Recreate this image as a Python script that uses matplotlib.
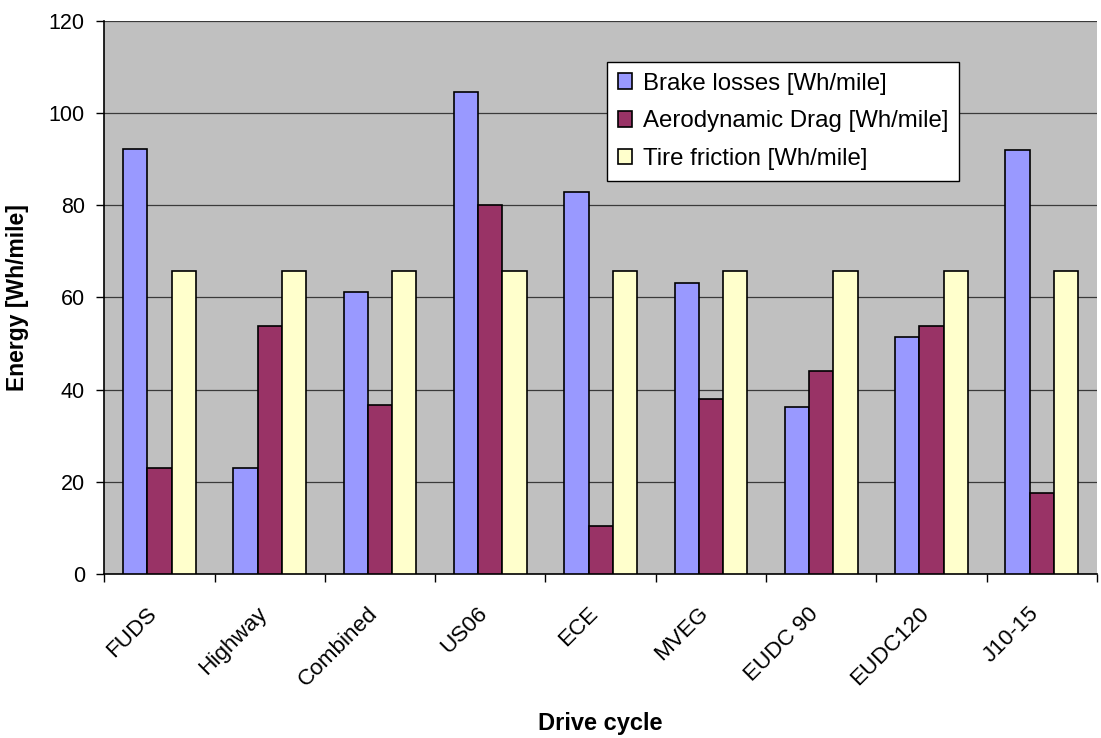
import matplotlib
matplotlib.use("Agg")
import matplotlib.pyplot as plt
import numpy as np

plt.rcParams['font.family'] = ['Liberation Sans', 'DejaVu Sans']

# Energy breakdown per drive cycle
cycles = ["FUDS", "Highway", "Combined", "US06", "ECE", "MVEG",
          "EUDC 90", "EUDC120", "J10-15"]
brake_losses = [92.2, 22.9, 61.2, 104.4, 82.8, 63.2, 36.3, 51.4, 92.0]
aero_drag = [22.9, 53.8, 36.7, 80.0, 10.5, 37.9, 44.0, 53.8, 17.5]
tire_friction = [65.8, 65.8, 65.8, 65.8, 65.8, 65.8, 65.8, 65.8, 65.8]

series_labels = ["Brake losses [Wh/mile]", "Aerodynamic Drag [Wh/mile]",
                 "Tire friction [Wh/mile]"]
series_colors = ["#9999FF", "#993366", "#FFFFCC"]
y_ticks = [0, 20, 40, 60, 80, 100, 120]

fig = plt.figure(figsize=(11.01, 7.38), dpi=100)
ax = fig.add_axes([0.0947, 0.2222, 0.9017, 0.7500])
ax.set_facecolor("#C0C0C0")

x = np.arange(len(cycles))
width = 0.22
handles = []
for i, (vals, lab, col) in enumerate(zip([brake_losses, aero_drag, tire_friction],
                                         series_labels, series_colors)):
    h = ax.bar(x + (i - 1) * width, vals, width, color=col, edgecolor="black",
               linewidth=1.2, label=lab, zorder=3)
    handles.append(h)

ax.set_xlim(-0.5, len(cycles) - 0.5)
ax.set_ylim(0, 120)
ax.set_yticks(y_ticks)
ax.yaxis.grid(True, color="#3a3a3a", linewidth=0.9, zorder=1)
ax.set_axisbelow(True)

# rotated category labels end just left of each group centre;
# visible tick marks sit between groups
ax.set_xticks(x - 0.12)
ax.set_xticklabels(cycles, rotation=45, ha="right", rotation_mode="anchor",
                   fontsize=16.2)
ax.set_xticks(np.arange(-0.5, len(cycles)), minor=True)
ax.tick_params(axis="x", which="major", length=0, pad=21)
ax.tick_params(axis="x", which="minor", length=6, width=1, direction="out",
               color="black")
ax.tick_params(axis="y", length=6, width=1, direction="out", labelsize=15.5,
               pad=8)

for s in ["top", "right"]:
    ax.spines[s].set_visible(False)
ax.spines["left"].set_color("black")
ax.spines["bottom"].set_color("black")
ax.spines["left"].set_linewidth(1.2)
ax.spines["bottom"].set_linewidth(1.2)

ax.set_ylabel("Energy [Wh/mile]", fontsize=16.5, fontweight="bold", labelpad=14)
ax.set_xlabel("Drive cycle", fontsize=17, fontweight="bold", labelpad=15)

leg = ax.legend(handles=handles, loc="upper left",
                bbox_to_anchor=(606.7 / 1101, 1 - 61.7 / 738),
                bbox_transform=fig.transFigure, fontsize=17.3,
                frameon=True, fancybox=False, shadow=False,
                handlelength=0.6, handleheight=0.6, handletextpad=0.45,
                labelspacing=0.66, borderpad=0.45, borderaxespad=0)
leg.get_frame().set_edgecolor("black")
leg.get_frame().set_linewidth(1.0)
leg.get_frame().set_facecolor("white")
leg.get_frame().set_alpha(1)

fig.savefig("out.png", dpi=100, facecolor="white")
